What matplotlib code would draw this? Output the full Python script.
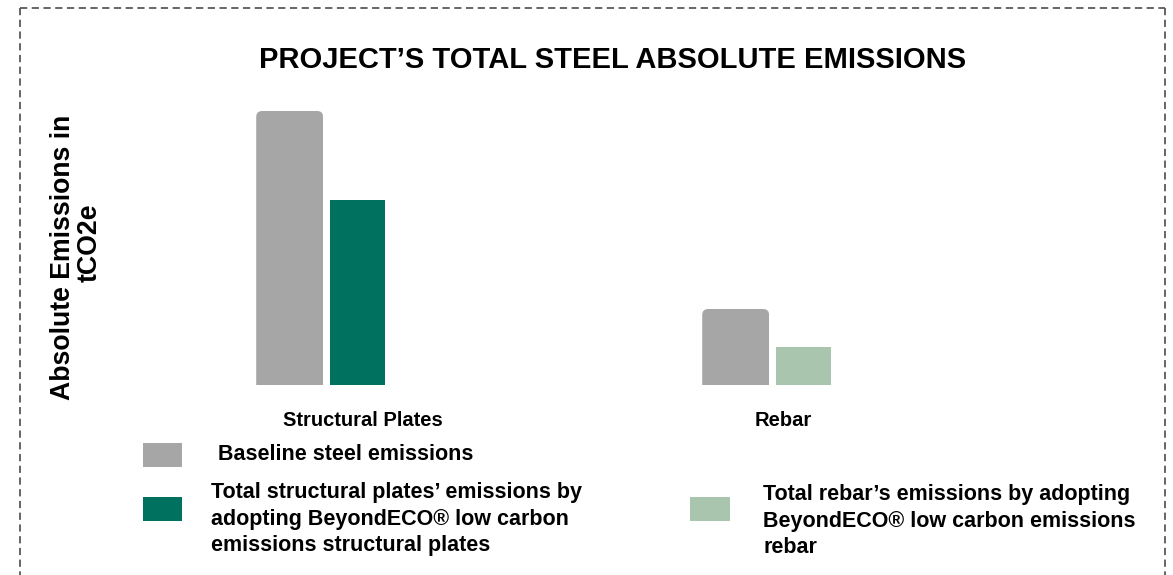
import matplotlib
matplotlib.use("Agg")
import matplotlib.pyplot as plt
from matplotlib.patches import FancyBboxPatch, Rectangle
from matplotlib.lines import Line2D

plt.rcParams['font.family'] = ['Liberation Sans', 'DejaVu Sans']

# Data (tCO2e, relative)
categories = ["Structural Plates", "Rebar"]
baseline = [274, 76]
low_carbon = [185, 38]
title = "PROJECT\u2019S TOTAL STEEL ABSOLUTE EMISSIONS"
ylabel_lines = ["Absolute Emissions in", "tCO2e"]
legend_baseline = "Baseline steel emissions"
legend_plates = "Total structural plates\u2019 emissions by\nadopting BeyondECO\u00ae low carbon\nemissions structural plates"
legend_rebar = "Total rebar\u2019s emissions by adopting\nBeyondECO\u00ae low carbon emissions\nrebar"

GRAY = "#A6A6A6"
DARK_GREEN = "#00715F"
LIGHT_GREEN = "#A9C5AD"

W, H = 1173, 575
fig = plt.figure(figsize=(W / 100, H / 100), dpi=100)

def fx(px):
    return px / W

def fy(py):
    return 1 - py / H

# axes: baseline at y=385px, top at 100px; category 0 centre at 320px, spacing 446px
ax_left, ax_right = 320 - 223, 320 + 3 * 223
ax = fig.add_axes([fx(ax_left), fy(385), (ax_right - ax_left) / W, (385 - 100) / H])
ax.set_xlim(-0.5, 1.5)
ax.set_ylim(0, 285)
ax.axis("off")

x = list(range(len(categories)))
gray_w, green_w = 0.150, 0.123
gray_off, green_off = -0.068, 0.084

gray_bars = ax.bar([i + gray_off for i in x], baseline, width=gray_w, color=GRAY, linewidth=0)
green_colors = [DARK_GREEN, LIGHT_GREEN]
ax.bar([i + green_off for i in x], low_carbon, width=green_w, color=green_colors, linewidth=0)

# rounded top corners on the baseline bars
fig.canvas.draw()
px_per_x = ax.bbox.width / 2.0
px_per_y = ax.bbox.height / 285.0
radius_px = 6
for bar in gray_bars:
    bx, by = bar.get_x(), bar.get_y()
    bw, bh = bar.get_width(), bar.get_height()
    r = radius_px / px_per_x
    clip = FancyBboxPatch((bx, by - 20), bw, bh + 20,
                          boxstyle=f"round,pad=0,rounding_size={r}",
                          mutation_aspect=px_per_x / px_per_y,
                          transform=ax.transData, facecolor="none", edgecolor="none")
    bar.set_clip_path(clip)

# category labels
cat_offsets = [0.096, 0.038]
for i, (name, off) in enumerate(zip(categories, cat_offsets)):
    ax.text(i + off, -0.123, name, transform=ax.get_xaxis_transform(),
            ha="center", va="center", fontsize=14.5, fontweight="bold", color="#000000")

# title
fig.text(fx(613), fy(60), title, ha="center", va="center", fontsize=21,
         fontweight="bold", color="#000000")

# y label, two rotated lines
for (px, py), line in zip([(63, 257), (90, 243)], ylabel_lines):
    fig.text(fx(px), fy(py), line, rotation=90, ha="center", va="center",
             fontsize=19.2, fontweight="bold", color="#000000")

# legend
def swatch(x0, y0, x1, y1, color):
    fig.patches.append(Rectangle((fx(x0), fy(y1)), (x1 - x0) / W, (y1 - y0) / H,
                                 transform=fig.transFigure, facecolor=color,
                                 edgecolor="none"))

swatch(143, 443, 182, 467, GRAY)
swatch(143, 497, 182, 521, DARK_GREEN)
swatch(690, 497, 730, 521, LIGHT_GREEN)
fig.text(fx(218), fy(455), legend_baseline, ha="left", va="center",
         fontsize=15.5, fontweight="bold", color="#000000")
fig.text(fx(211), fy(519), legend_plates, ha="left", va="center",
         fontsize=15.5, fontweight="bold", linespacing=1.36, color="#000000")
fig.text(fx(763), fy(521), legend_rebar, ha="left", va="center",
         fontsize=15.5, fontweight="bold", linespacing=1.36, color="#000000")

# dashed frame
border = dict(color="#595959", linewidth=1.3, linestyle=(0, (4, 2.5)),
              transform=fig.transFigure)
fig.lines.append(Line2D([fx(20), fx(1165)], [fy(8), fy(8)], **border))
fig.lines.append(Line2D([fx(20), fx(20)], [fy(8), fy(580)], **border))
fig.lines.append(Line2D([fx(1165), fx(1165)], [fy(8), fy(580)], **border))

fig.savefig("out.png", dpi=100)
